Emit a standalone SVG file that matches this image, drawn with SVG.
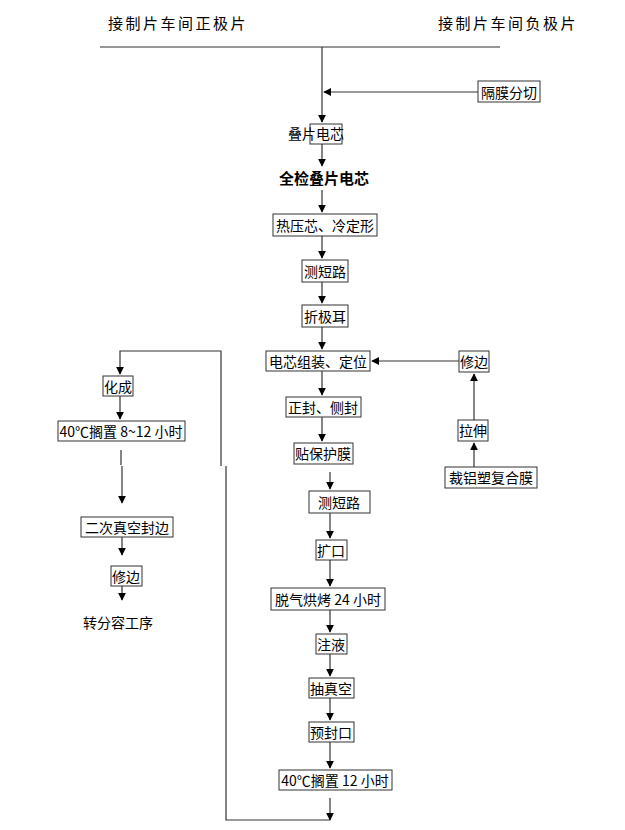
<svg xmlns="http://www.w3.org/2000/svg" width="625" height="830" viewBox="0 0 625 830">
<style>
text{font-family:"Noto Sans CJK SC","Liberation Sans",sans-serif;font-size:14px;fill:#000;text-anchor:middle;dominant-baseline:central}
.h{font-size:15px;letter-spacing:2.5px}
.b{fill:#fff;stroke:#333;stroke-width:1}
.l{fill:none;stroke:#333;stroke-width:1.2}
</style>
<defs><marker id="a" viewBox="0 0 10 10" refX="9" refY="5" markerWidth="8" markerHeight="8" orient="auto" markerUnits="userSpaceOnUse"><path d="M0,0L10,5L0,10z" fill="#000"/></marker></defs>
<g id="connectors">
<path class="l" d="M100,47H500"/>
<path class="l" d="M322,47V122" marker-end="url(#a)"/>
<path class="l" d="M478,92H324" marker-end="url(#a)"/>
<path class="l" d="M322,144V166" marker-end="url(#a)"/>
<path class="l" d="M322,190V212" marker-end="url(#a)"/>
<path class="l" d="M322,236V258" marker-end="url(#a)"/>
<path class="l" d="M322,282V303" marker-end="url(#a)"/>
<path class="l" d="M322,327V349" marker-end="url(#a)"/>
<path class="l" d="M459,361H372" marker-end="url(#a)"/>
<path class="l" d="M474,420V374" marker-end="url(#a)"/>
<path class="l" d="M474,467V443" marker-end="url(#a)"/>
<path class="l" d="M322,371V395" marker-end="url(#a)"/>
<path class="l" d="M322,417V441" marker-end="url(#a)"/>
<path class="l" d="M330,472V489" marker-end="url(#a)"/>
<path class="l" d="M330,513V538" marker-end="url(#a)"/>
<path class="l" d="M330,560V586" marker-end="url(#a)"/>
<path class="l" d="M330,610V632" marker-end="url(#a)"/>
<path class="l" d="M330,654V676" marker-end="url(#a)"/>
<path class="l" d="M330,698V720" marker-end="url(#a)"/>
<path class="l" d="M330,742V768" marker-end="url(#a)"/>
<path class="l" d="M330,798V820" marker-end="url(#a)"/>
<path class="l" d="M330,820H226V466"/>
<path class="l" d="M221,466V351H120V374" marker-end="url(#a)"/>
<path class="l" d="M120,396V419" marker-end="url(#a)"/>
<path class="l" d="M121,450V465"/>
<path class="l" d="M122,466V503" marker-end="url(#a)"/>
<path class="l" d="M122,537V555" marker-end="url(#a)"/>
<path class="l" d="M122,586V600" marker-end="url(#a)"/>
</g>
<g id="t1"><text class="h" x="178" y="22">接制片车间正极片</text></g>
<g id="t2"><text class="h" x="508" y="22">接制片车间负极片</text></g>
<g id="n_gmfq"><rect class="b" x="478" y="81" width="62" height="21"/><text x="509" y="92">隔膜分切</text></g>
<g id="n_dp"><rect class="b" x="310" y="124" width="32" height="20"/><text x="316" y="133">叠片电芯</text></g>
<g id="n_qj"><text x="324" y="177" style="font-size:15px;font-weight:bold">全检叠片电芯</text></g>
<g id="n_ry"><rect class="b" x="273" y="214" width="104" height="22"/><text x="325" y="225">热压芯、冷定形</text></g>
<g id="n_cdl1"><rect class="b" x="302" y="260" width="46" height="22"/><text x="325" y="271">测短路</text></g>
<g id="n_zje"><rect class="b" x="302" y="305" width="46" height="22"/><text x="325" y="316">折极耳</text></g>
<g id="n_zz"><rect class="b" x="266" y="351" width="104" height="20"/><text x="318" y="361">电芯组装、定位</text></g>
<g id="n_xb1"><rect class="b" x="459" y="351" width="30" height="21"/><text x="474" y="361">修边</text></g>
<g id="n_ls"><rect class="b" x="458" y="420" width="30" height="21"/><text x="473" y="430">拉伸</text></g>
<g id="n_cl"><rect class="b" x="445" y="467" width="92" height="21"/><text x="491" y="477">裁铝塑复合膜</text></g>
<g id="n_zf"><rect class="b" x="286" y="397" width="75" height="20"/><text x="323" y="407">正封、侧封</text></g>
<g id="n_tb"><rect class="b" x="294" y="443" width="59" height="21"/><text x="323" y="453">贴保护膜</text></g>
<g id="n_cdl2"><rect class="b" x="309" y="491" width="61" height="22"/><text x="339" y="502">测短路</text></g>
<g id="n_kk"><rect class="b" x="316" y="540" width="31" height="20"/><text x="331" y="550">扩口</text></g>
<g id="n_tq"><rect class="b" x="271" y="588" width="114" height="22"/><text x="328" y="599">脱气烘烤 24 小时</text></g>
<g id="n_zy"><rect class="b" x="316" y="634" width="31" height="20"/><text x="331" y="644">注液</text></g>
<g id="n_czk"><rect class="b" x="309" y="678" width="45" height="20"/><text x="331" y="688">抽真空</text></g>
<g id="n_yfk"><rect class="b" x="309" y="722" width="45" height="20"/><text x="331" y="732">预封口</text></g>
<g id="n_gz12"><rect class="b" x="279" y="770" width="113" height="20"/><text x="335" y="780">40℃搁置 12 小时</text></g>
<g id="n_hc"><rect class="b" x="103" y="376" width="30" height="20"/><text x="118" y="386">化成</text></g>
<g id="n_gz8"><rect class="b" x="58" y="421" width="127" height="20"/><text x="121" y="431">40℃搁置 8~12 小时</text></g>
<g id="n_ec"><rect class="b" x="81" y="517" width="92" height="20"/><text x="127" y="527">二次真空封边</text></g>
<g id="n_xb2"><rect class="b" x="111" y="566" width="31" height="20"/><text x="126" y="576">修边</text></g>
<g id="n_zfr"><text x="118" y="622">转分容工序</text></g>
</svg>
